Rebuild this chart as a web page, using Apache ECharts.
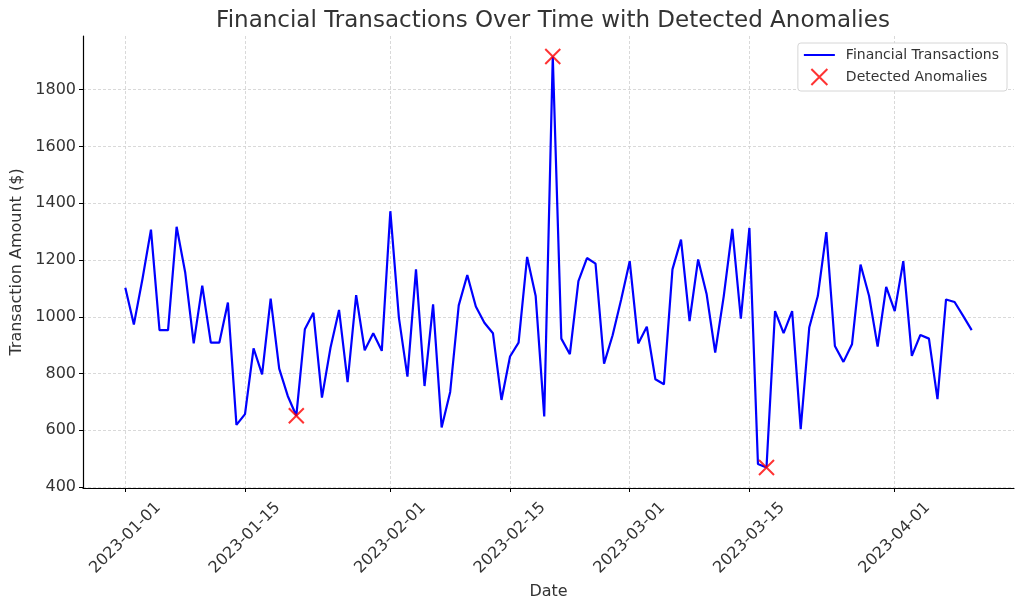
<!DOCTYPE html>
<html>
<head>
<meta charset="utf-8">
<script src="https://cdn.jsdelivr.net/npm/echarts@6/dist/echarts.min.js"></script>
<style>
html,body{margin:0;padding:0;background:#fff;}
#chart{width:1024px;height:611px;}
</style>
</head>
<body>
<div id="chart"></div>
<script>
const startDate = '2023-01-01';
const amounts = [
  1102, 973, 1132, 1307, 953, 953, 1317, 1157, 906, 1110,
  909, 909, 1050, 619, 657, 889, 797, 1064, 817, 721,
  651, 956, 1014, 715, 891, 1024, 770, 1076, 882, 942,
  880, 1372, 997, 789, 1167, 756, 1044, 610, 735, 1040,
  1147, 1036, 979, 942, 707, 860, 909, 1211, 1073, 649,
  1917, 923, 868, 1126, 1207, 1187, 835, 935, 1061, 1196,
  906, 965, 780, 762, 1167, 1272, 985, 1202, 1079, 874,
  1073, 1310, 993, 1313, 481, 469, 1020, 942, 1020, 604,
  962, 1073, 1298, 897, 841, 903, 1184, 1073, 895, 1105,
  1020, 1196, 862, 936, 923, 710, 1061, 1052, 1003, 953
];
const anomalyDates = ['2023-01-21', '2023-02-20', '2023-03-17'];
const anomalyValues = [651, 1917, 469];
const xTickLabels = ['2023-01-01', '2023-01-15', '2023-02-01', '2023-02-15', '2023-03-01', '2023-03-15', '2023-04-01'];
const yTickValues = [400, 600, 800, 1000, 1200, 1400, 1600, 1800];

const DAY = 86400000;
function ts(s) { const p = s.split('-').map(Number); return Date.UTC(p[0], p[1] - 1, p[2]); }
const t0 = ts(startDate);
// x position = day offset from start date
function dayOf(s) { return Math.round((ts(s) - t0) / DAY); }
function fmt(day) {
  const d = new Date(t0 + Math.round(day) * DAY);
  const mm = String(d.getUTCMonth() + 1).padStart(2, '0');
  const dd = String(d.getUTCDate()).padStart(2, '0');
  return d.getUTCFullYear() + '-' + mm + '-' + dd;
}
const lineData = amounts.map((v, i) => [i, v]);
const anomalyData = anomalyDates.map((d, i) => [dayOf(d), anomalyValues[i]]);
const xTicks = xTickLabels.map(dayOf);

const xFirst = 0, xLast = amounts.length - 1;
const xPad = (xLast - xFirst) * 0.05;
const yMinD = Math.min(...amounts), yMaxD = Math.max(...amounts);
const yPad = (yMaxD - yMinD) * 0.05;

const font = 'DejaVu Sans';
const txt = '#333333';
const gridLine = { show: true, lineStyle: { color: '#cfcfcf', width: 0.8, type: [3, 2] } };

const chart = echarts.init(document.getElementById('chart'), null, { renderer: 'canvas' });
chart.setOption({
  animation: false,
  backgroundColor: '#ffffff',
  textStyle: { fontFamily: font },
  title: {
    text: 'Financial Transactions Over Time with Detected Anomalies',
    left: 548, top: 5, textAlign: 'center',
    textStyle: { fontFamily: font, fontSize: 23, fontWeight: 'normal', color: txt }
  },
  legend: {
    orient: 'vertical', right: 17, top: 43,
    backgroundColor: '#fff',
    borderColor: '#d6d6d6', borderWidth: 1, borderRadius: 3,
    padding: [5, 8, 5, 5],
    itemGap: 6, itemWidth: 31, itemHeight: 16,
    textStyle: { fontFamily: font, fontSize: 14, color: txt, padding: [0, 0, 0, 6] },
    data: [
      { name: 'Financial Transactions' },
      { name: 'Detected Anomalies' }
    ]
  },
  grid: { left: 83, right: 10, top: 36, bottom: 123, containLabel: false },
  xAxis: {
    type: 'value',
    min: xFirst - xPad, max: xLast + xPad,
    name: 'Date', nameLocation: 'middle', nameGap: 96,
    nameTextStyle: { fontFamily: font, fontSize: 16, color: txt },
    axisLine: { show: true, onZero: false, lineStyle: { color: '#000', width: 1.2 } },
    axisTick: { show: true, inside: false, length: 4, lineStyle: { color: '#000' }, customValues: xTicks },
    axisLabel: {
      customValues: xTicks,
      formatter: v => fmt(v),
      rotate: 45, align: 'center', verticalAlign: 'middle', margin: 50,
      fontFamily: font, fontSize: 16, color: txt
    },
    splitLine: gridLine
  },
  yAxis: {
    type: 'value',
    min: yMinD - yPad, max: yMaxD + yPad,
    name: 'Transaction Amount ($)', nameLocation: 'middle', nameGap: 57,
    nameTextStyle: { fontFamily: font, fontSize: 16, color: txt },
    axisLine: { show: true, onZero: false, lineStyle: { color: '#000', width: 1.2 } },
    axisTick: { show: true, inside: false, length: 4, lineStyle: { color: '#000' }, customValues: yTickValues },
    axisLabel: { customValues: yTickValues, formatter: v => String(v), margin: 7, fontFamily: font, fontSize: 16, color: txt },
    splitLine: gridLine
  },
  series: [
    {
      name: 'Financial Transactions', type: 'line', data: lineData,
      symbol: 'circle', showSymbol: false, symbolSize: 0,
      lineStyle: { color: '#0000ff', width: 2.2 },
      itemStyle: { color: 'rgba(0,0,0,0)', borderColor: 'rgba(0,0,0,0)', borderWidth: 0 }
    },
    {
      name: 'Detected Anomalies', type: 'scatter', data: anomalyData,
      symbol: 'path://M0,0L10,10M10,0L0,10', symbolSize: 15,
      itemStyle: { color: 'rgba(0,0,0,0)', borderColor: '#ff0000', borderWidth: 2 },
      z: 5
    }
  ]
});
</script>
</body>
</html>
